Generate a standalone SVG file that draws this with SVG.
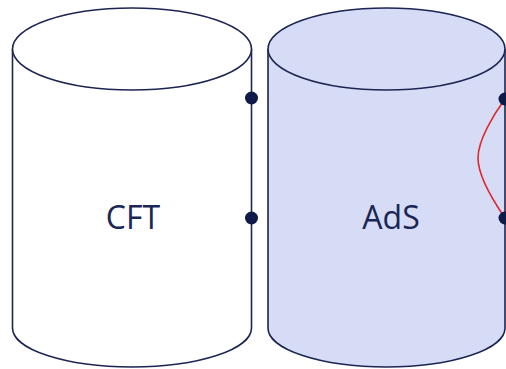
<svg xmlns="http://www.w3.org/2000/svg" width="506" height="369" viewBox="0 0 506 369">
<style>
.edge{stroke:#1c2552;stroke-width:1.6;}
.lbl{font-family:"Open Sans","Noto Sans",sans-serif;font-size:32px;fill:#1a2656;text-anchor:middle;}
.dot{fill:#0e1a48;}
</style>
<rect width="506" height="369" fill="#ffffff"/>
<g id="cft">
<path class="edge" d="M12.5,49 L12.5,328 A119.5,39 0 0 0 251.5,328 L251.5,49" fill="#ffffff"/>
<ellipse class="edge" cx="132" cy="49" rx="119.5" ry="41" fill="#ffffff"/>
<text class="lbl" x="133" y="229">CFT</text>
</g>
<g id="ads">
<path class="edge" d="M268,49 L268,328 A118.5,39 0 0 0 505,328 L505,49" fill="#d6dcf5"/>
<ellipse class="edge" cx="386.5" cy="49" rx="118.5" ry="41" fill="#d6dcf5"/>
<text class="lbl" x="391" y="229">AdS</text>
</g>
<g id="connectors">
<path d="M505,99 C494,114 478,140 478,158 C478,176 494,202 505,218" fill="none" stroke="#e0262e" stroke-width="1.6"/>
<circle class="dot" cx="251.5" cy="98" r="6.5"/>
<circle class="dot" cx="251.5" cy="218" r="6.5"/>
<circle class="dot" cx="505" cy="99" r="6.5"/>
<circle class="dot" cx="505" cy="218" r="6.5"/>
</g>
</svg>
